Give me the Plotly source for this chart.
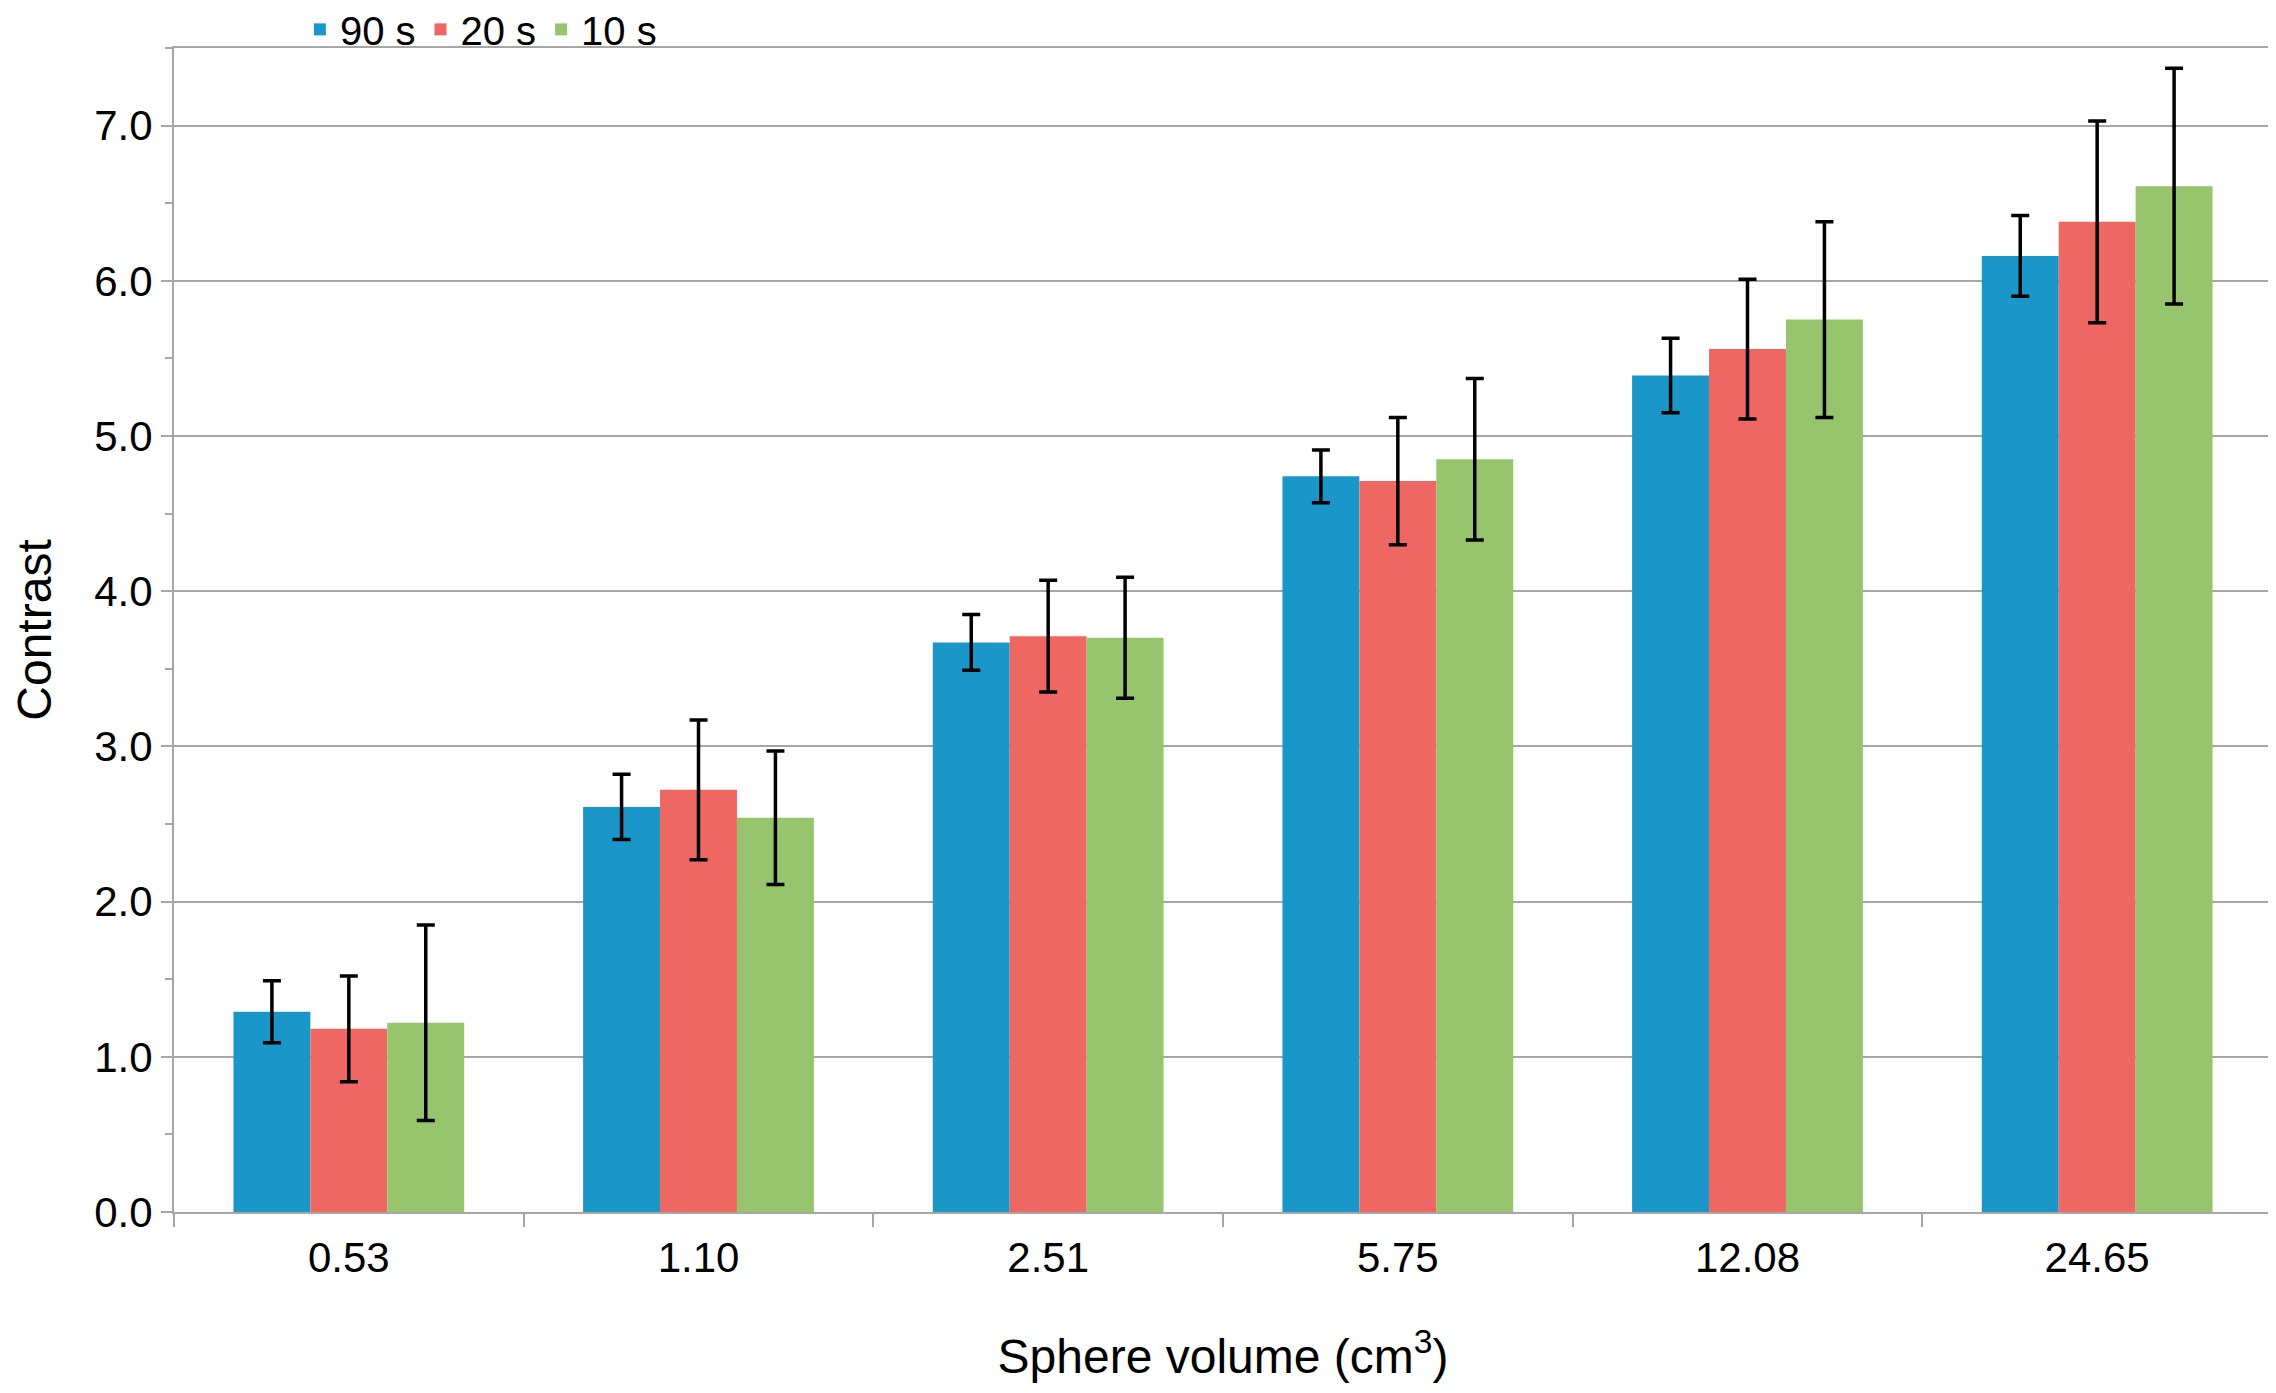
import plotly.graph_objects as go

# ----------------------------------------
# Paso 1: Datos
# ----------------------------------------
volumenes = ['0.53', '1.10', '2.51', '5.75', '12.08', '24.65']

contraste_90s = [1.29, 2.61, 3.67, 4.74, 5.39, 6.16]
error_90s = [0.20, 0.21, 0.18, 0.17, 0.24, 0.26]

contraste_20s = [1.18, 2.72, 3.71, 4.71, 5.56, 6.38]
error_20s = [0.34, 0.45, 0.36, 0.41, 0.45, 0.65]

contraste_10s = [1.22, 2.54, 3.70, 4.85, 5.75, 6.61]
error_10s = [0.63, 0.43, 0.39, 0.52, 0.63, 0.76]

series = [
    ('90 s', contraste_90s, error_90s, '#1b96c9'),
    ('20 s', contraste_20s, error_20s, '#ef6762'),
    ('10 s', contraste_10s, error_10s, '#96c56e'),
]

# ----------------------------------------
# Paso 2: Barras con barras de error
# ----------------------------------------
fuente = "Liberation Sans, Arial, sans-serif"
gris = '#a6a6a6'

fig = go.Figure()
for nombre, valores, errores, color in series:
    fig.add_trace(go.Bar(
        x=volumenes, y=valores, name=nombre,
        marker=dict(color=color, line=dict(width=0)),
        error_y=dict(type='data', array=errores, visible=True,
                     color='black', thickness=3.5, width=9)
    ))

# ----------------------------------------
# Paso 3: Diseño
# (la página añade 8 px de margen al body, por eso el tamaño es algo menor)
# ----------------------------------------
fig.update_layout(
    width=2268, height=1385,
    barmode='group', bargap=0.34, bargroupgap=0,
    plot_bgcolor='white', paper_bgcolor='white',
    margin=dict(l=166, r=4, t=40, b=181, autoexpand=False),
    font=dict(family=fuente, size=42, color='black'),
    legend=dict(orientation='h', x=0.06, xanchor='left', y=1.016, yanchor='middle',
                font=dict(family=fuente, size=40), itemwidth=30,
                bgcolor='rgba(0,0,0,0)', traceorder='normal'),
)

fig.update_xaxes(
    type='category', tickson='boundaries',
    ticks='outside', ticklen=13, tickwidth=2, tickcolor=gris,
    showline=True, linecolor=gris, linewidth=2, mirror=True,
    showgrid=False, ticklabelstandoff=8,
    tickfont=dict(family=fuente, size=42),
    title=dict(text='Sphere volume (cm<sup>3</sup>)', standoff=59,
               font=dict(family=fuente, size=48)),
)

fig.update_yaxes(
    range=[0, 7.5], tick0=0, dtick=1, tickformat='.1f',
    ticks='outside', ticklen=11, tickwidth=2, tickcolor=gris,
    minor=dict(dtick=0.5, ticks='outside', ticklen=7, tickwidth=2,
               tickcolor=gris, showgrid=False),
    showgrid=True, gridcolor=gris, gridwidth=2, zeroline=False,
    showline=True, linecolor=gris, linewidth=2, mirror=True,
    tickfont=dict(family=fuente, size=42),
    title=dict(text='Contrast', standoff=40,
               font=dict(family=fuente, size=48)),
)

fig.write_html("out.html")
